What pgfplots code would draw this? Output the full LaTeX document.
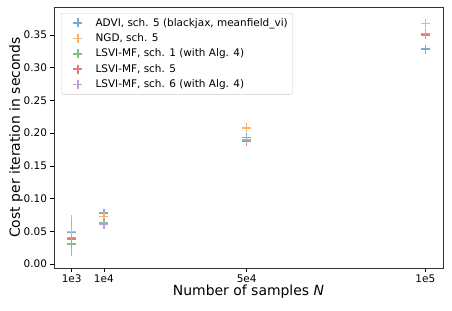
\documentclass[border=0pt]{standalone}
\usepackage{pgfplots}
\pgfplotsset{compat=1.18}
\usepackage{fontspec}
\setmainfont{DejaVu Sans}
\definecolor{c0}{HTML}{1F77B4}
\definecolor{c1}{HTML}{FF7F0E}
\definecolor{c2}{HTML}{2CA02C}
\definecolor{c3}{HTML}{D62728}
\definecolor{c4}{HTML}{9467BD}
\pgfplotsset{
  ser/.style={only marks, mark=+, mark size=4.5bp, color=#1!62!white, mark options={draw=#1!62!white, solid, line width=1.5bp}},
  bar/.style={forget plot, no marks, solid, draw=#1!62!white, line width=1.5bp, unbounded coords=jump}
}
\begin{document}
\begin{tikzpicture}[x=1bp,y=1bp]
\begin{axis}[
  scale only axis,
  width=389bp, height=261bp,
  xmin=-3950, xmax=104950,
  ymin=-0.006, ymax=0.3925,
  xtick={1000,10000,50000,100000},
  xticklabels={1e3,1e4,5e4,1e5},
  scaled x ticks=false,
  scaled y ticks=false,
  ytick={0,0.05,0.1,0.15,0.2,0.25,0.3,0.35},
  yticklabel style={/pgf/number format/.cd,fixed,fixed zerofill,precision=2},
  /pgf/number format/assume math mode=true,
  tick align=outside,
  tick pos=left,
  major tick length=3.5bp,
  tick style={black, line width=0.6bp},
  axis line style={black!80, line width=0.6bp},
  ticklabel style={font=\fontsize{10.5}{12}\selectfont},
  xlabel={Number of samples \textit{N}},
  ylabel={Cost per iteration in seconds},
  label style={font=\fontsize{14}{16}\selectfont},
  xlabel style={at={(axis description cs:0.5,-0.092)}, anchor=center},
  ylabel style={at={(axis description cs:-0.0977,0.5)}, anchor=center},
  legend cell align=left,
  legend image code/.code={\path (0bp,0bp) (22bp,0bp); \draw[mark repeat=2, mark phase=2, #1] plot coordinates {(0bp,0bp) (13.5bp,0bp) (22bp,0bp)};},
  legend style={font=\fontsize{10.5}{12}\selectfont, draw=black!20, rounded corners=2bp, fill=white, fill opacity=0.8, text opacity=1, at={(0.018,0.977)}, anchor=north west, row sep=2bp, column sep=7bp, inner sep=3bp},
]
% ADVI
\addplot[bar=c0] coordinates {(1000,0.0406) (1000,0.0566) (1000,nan) (10000,0.0728) (10000,0.0828) (10000,nan) (50000,0.191) (50000,0.195) (50000,nan) (100000,0.325) (100000,0.331)};
\addplot[ser=c0] coordinates {(1000,0.0486) (10000,0.0778) (50000,0.193) (100000,0.328)};
\addlegendentry{ADVI, sch. 5 (blackjax, meanfield\_vi)}
% NGD
\addplot[bar=c1] coordinates {(1000,0.025) (1000,0.075) (1000,nan) (10000,0.0686) (10000,0.0766) (10000,nan) (50000,0.206) (50000,0.210) (50000,nan) (100000,0.364) (100000,0.370)};
\addplot[ser=c1] coordinates {(1000,0.050) (10000,0.0726) (50000,0.208) (100000,0.367)};
\addlegendentry{NGD, sch. 5}
% LSVI-MF sch 1
\addplot[bar=c2] coordinates {(1000,0.027) (1000,0.035) (1000,nan) (10000,0.0604) (10000,0.0644) (10000,nan) (50000,0.187) (50000,0.191) (50000,nan) (100000,0.349) (100000,0.353)};
\addplot[ser=c2] coordinates {(1000,0.031) (10000,0.0624) (50000,0.189) (100000,0.351)};
\addlegendentry{LSVI-MF, sch. 1 (with Alg. 4)}
% LSVI-MF sch 5
\addplot[bar=c3] coordinates {(1000,0.018) (1000,0.058) (1000,nan) (10000,0.0573) (10000,0.0633) (10000,nan) (50000,0.185) (50000,0.189) (50000,nan) (100000,0.348) (100000,0.352)};
\addplot[ser=c3] coordinates {(1000,0.038) (10000,0.0603) (50000,0.187) (100000,0.350)};
\addlegendentry{LSVI-MF, sch. 5}
% LSVI-MF sch 6
\addplot[bar=c4] coordinates {(1000,0.0124) (1000,0.0684) (1000,nan) (10000,0.0558) (10000,0.0648) (10000,nan) (50000,0.188) (50000,0.192) (50000,nan) (100000,0.348) (100000,0.356)};
\addplot[ser=c4] coordinates {(1000,0.0404) (10000,0.0603) (50000,0.190) (100000,0.352)};
\addlegendentry{LSVI-MF, sch. 6 (with Alg. 4)}
\end{axis}
\pgfresetboundingbox
\path ([shift={(-54bp,-43bp)}]current axis.south west) rectangle ([shift={(9bp,7bp)}]current axis.north east);
\end{tikzpicture}
\end{document}
